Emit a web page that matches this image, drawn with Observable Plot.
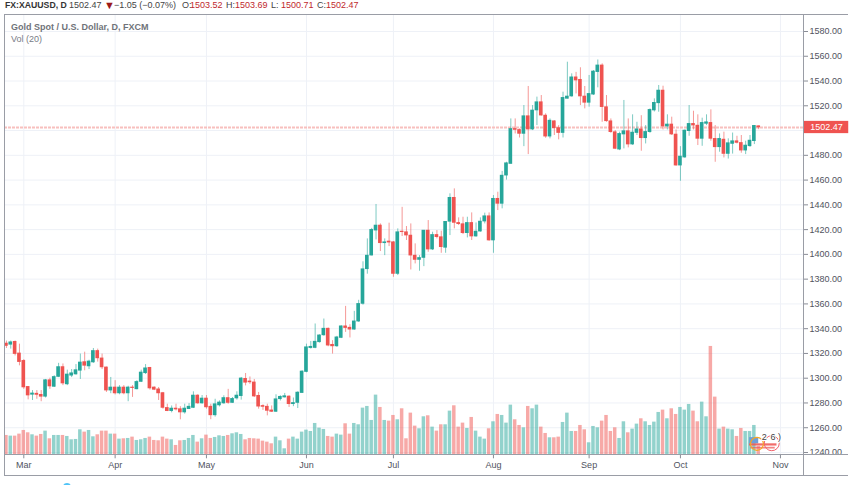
<!DOCTYPE html>
<html><head><meta charset="utf-8">
<script src="https://cdn.jsdelivr.net/npm/d3@7"></script>
<script src="https://cdn.jsdelivr.net/npm/@observablehq/plot@0.6"></script>
<style>
html,body{margin:0;padding:0;background:#fff;overflow:hidden}
#wrap{position:relative;width:852px;height:485px;overflow:hidden;font-family:"Liberation Sans",sans-serif}
#wrap svg{display:block;position:absolute;left:0;top:0;background:transparent}
.h{position:absolute;top:0;font-size:9px;line-height:10px;color:#444;white-space:nowrap}
.r{color:#c0282d}.b{font-weight:bold;color:#333;font-size:8.7px}
.ln{position:absolute;background:#9a9da6}
</style></head><body><div id="wrap"></div>
<script>
const opens=[1328,1327,1329.4,1320,1314,1293,1286.6,1287.5,1286.6,1285,
1298.4,1293,1301,1309,1295,1302,1303,1306,1313,1309.5,
1312.7,1322,1316,1308.7,1290,1292.5,1287.7,1292.5,1287.7,1292.5,
1291,1297,1304,1308.4,1292.5,1291,1288,1276,1273.4,1275.5,
1275,1272.3,1275,1276,1286,1279.6,1283.6,1277,1270,1278,
1279.6,1284,1280,1283.6,1285.5,1299.5,1297.4,1296.6,1285.8,1277.6,
1277,1274,1272.8,1283,1284.4,1285.2,1279,1280,1288,1305,
1324.3,1324.4,1329,1334.6,1340,1327,1325.7,1332.5,1341.9,1340.8,
1339.2,1345.7,1360,1388,1399,1419.2,1423.3,1409,1410.4,1409.8,
1384.2,1418.4,1417.9,1415.2,1399,1395.5,1397.1,1419.2,1403.9,1415.7,
1413.9,1405.3,1426.3,1445.7,1425.4,1424.4,1417.1,1425.4,1414.4,1418.4,
1426.5,1430.8,1411.2,1444.9,1440.8,1463.6,1473,1501.3,1500.5,1497.3,
1511.6,1500.8,1516.2,1522.9,1512.1,1495.1,1507.5,1502,1498,1525.6,
1527.5,1543,1541,1527.5,1522.4,1529,1547.2,1552.6,1518.9,1507.5,
1498.7,1484.6,1496.8,1499.5,1488.7,1498,1501,1493.8,1498.7,1516.2,
1522,1532.3,1503.2,1504.9,1496.8,1471.7,1478.2,1499.5,1505.4,1504,
1493.3,1505.4,1506.2,1493.3,1486.5,1492.7,1481.1,1489.2,1491.4,1490,
1483.8,1487.3,1491.4,1503.52];
const closes=[1326,1329,1319.5,1313,1292.5,1286,1287.7,1286.5,1285,1298.4,
1293.3,1301,1309,1295.7,1303,1304,1306.5,1312.7,1310,1313.5,
1322,1316,1308.7,1290,1292.5,1287.7,1292.5,1287.7,1292.5,1292,
1297,1304.6,1308,1291.7,1290.6,1287.7,1276,1273.4,1275.5,1274.7,
1272.3,1275.5,1277,1286,1279.6,1283.6,1276.4,1270,1279,1280.4,
1284,1280,1283.3,1286,1299.8,1296.3,1296.6,1285.2,1277,1276.8,
1273.6,1272.8,1283,1285,1285.5,1279,1280,1288.4,1305.4,1325,
1325.4,1329.5,1334.6,1340,1326.3,1325.7,1333,1341.9,1340.5,1339.2,
1345.9,1360,1388,1399,1419.8,1423.3,1409,1409.8,1409.5,1384.2,
1417.9,1417.9,1415.2,1399,1395.5,1397.1,1419.2,1403.9,1415.7,1413.9,
1405.8,1426.3,1445.7,1425.4,1424.4,1417.1,1425.4,1414.4,1418.4,1426.5,
1430.8,1411.2,1444.9,1440.8,1463.6,1473.6,1501.3,1500.5,1497.3,1511.6,
1500.8,1516.2,1522.9,1512.1,1495.1,1508,1501.9,1498,1526.4,1527.5,
1543,1540.4,1527.5,1522.4,1529.6,1547.7,1552.6,1518.9,1507.5,1498.7,
1485.2,1497.3,1499.5,1488.7,1498.4,1501,1493.8,1498.9,1516.7,1522.4,
1532.3,1503.2,1504.9,1496.8,1471.7,1479,1500,1505.4,1504,1493.3,
1506.2,1506.7,1493.3,1486.5,1493.3,1481.1,1489.8,1491.4,1490,1483.8,
1487.9,1491.9,1503.8,1502.47];
const highs=[1330,1330,1330,1327.5,1315,1293,1290,1290,1290,1299,
1300,1302,1312,1311.5,1306.5,1307,1311,1319.5,1321,1314.5,
1324,1323.5,1319.5,1309,1300.6,1298,1294,1294,1293.5,1294,
1298,1306.5,1311,1308.7,1293,1292.5,1288.5,1279,1277.6,1279,
1277,1279,1279.5,1289,1286.6,1286,1286,1279,1283,1281.7,
1285.8,1291,1284.4,1289,1300.6,1303.8,1301,1299,1288.5,1278.5,
1279,1277.6,1286.6,1285.8,1287.7,1285.8,1284,1289,1306,1327.5,
1329.7,1343.8,1335,1347.8,1340.5,1330.3,1333.8,1342.4,1358,1343.2,
1354,1362.9,1394,1412.5,1421,1440.3,1424.6,1412.5,1425.2,1410.4,
1420.6,1438,1422.5,1424.6,1408.5,1399,1419.2,1427.3,1417.9,1419.2,
1418.7,1426.5,1448.9,1452.9,1429.5,1430,1430,1433.5,1425.4,1429.5,
1433.3,1433.5,1447.5,1450.2,1467,1474.4,1509.4,1509.4,1501.3,1520.2,
1535.6,1520.2,1527,1528.3,1513.5,1509.4,1508,1504,1531,1555.2,
1545.8,1547,1550.7,1535.6,1544.5,1548.5,1557,1553.9,1528.3,1509.4,
1500,1498.7,1524.3,1509.4,1512.7,1506.7,1512,1504,1517.5,1525.6,
1536.4,1535.8,1512.7,1510.8,1500.5,1487,1500.5,1520.2,1515.6,1512.7,
1510,1512.7,1516.7,1504,1497.3,1498.7,1493.3,1498,1495.4,1496,
1491.4,1496,1504,1503.69];
const lows=[1324,1323.5,1318,1310,1291,1282.5,1282,1283,1281,1284,
1291,1292.5,1300.5,1294,1294,1300.5,1302.5,1299,1306,1307,
1312,1313,1307,1288.5,1287.5,1286.5,1286.6,1286.6,1281,1284.5,
1290.6,1296.5,1303,1290.4,1290,1282,1275,1273,1272,1273.6,
1266.4,1271,1275,1275.5,1279,1279,1275,1266.5,1268.6,1276.8,
1279,1279,1279.7,1282.3,1282.3,1293.8,1295,1284.4,1275,1274,
1269.6,1272.3,1272.3,1281.6,1284,1276.4,1277,1275.5,1287.7,1304.4,
1323.5,1323.8,1328.4,1333.8,1325.4,1319.5,1324.9,1332,1337,1332.5,
1338.7,1345.1,1359,1384,1398.8,1411.7,1402.3,1399,1406.3,1381.5,
1382.9,1414.4,1411.2,1387.4,1392.3,1386.4,1390.1,1401.7,1403.1,1412.5,
1400.9,1400.9,1415.2,1420.6,1423.3,1416,1413.3,1411.2,1413.9,1417.9,
1424.6,1410.6,1400.9,1435.4,1436.8,1460,1473,1497.3,1494,1487,
1480.6,1500,1504,1511.6,1493.8,1493.3,1496,1492.5,1494,1525.6,
1527,1529.6,1520.2,1517.5,1518.9,1528.3,1534.5,1506.7,1506.7,1497.8,
1484.6,1483.8,1485.2,1486,1488,1496,1483.3,1489.2,1497.8,1515,
1514.8,1500.5,1500.5,1496,1471.2,1459,1477.6,1495.4,1500.5,1487.9,
1487.3,1504,1491.4,1474.4,1482.5,1477.9,1477,1481,1489.2,1481.7,
1480.6,1486.5,1488.7,1500.71];
const volumes=[58,56,56,62,73,66,60,56,61,71,48,58,58,58,55,45,46,75,68,73,54,60,71,71,62,62,47,48,49,53,43,45,49,53,43,42,53,47,45,28,42,43,49,58,38,
48,59,49,52,57,55,58,63,66,61,45,49,48,47,41,38,33,53,42,18,47,53,47,68,74,70,94,80,76,55,53,62,59,93,62,94,90,140,145,103,179,142,103,101,118,105,
138,48,125,86,78,114,117,83,71,90,90,131,147,83,95,79,112,71,53,47,78,99,121,118,95,149,105,88,81,145,138,149,83,64,51,51,53,97,125,70,70,88,75,36,85,81,
101,118,70,81,49,99,66,77,92,108,99,88,98,127,134,108,138,121,142,134,151,131,99,158,114,325,173,77,83,77,75,55,79,70,70,88,25];
const priceTicks=d3.range(1240,1581,20);
const timeTicks=[4,25,46,69,89,112,134,155,178];
const timeLabels=["Mar","Apr","May","Jun","Jul","Aug","Sep","Oct","Nov"];
const lastPrice=1502.47;

const UP="#26a69a",DOWN="#ef5350",AXIS="#50535e";
const base=1238.14, volPerPrice=3*1.238;
const halfBody=0.42, halfVol=0.4;
const bars=opens.map((o,i)=>({i,o,c:closes[i],h:highs[i],l:lows[i],v:volumes[i],col:closes[i]>=o?UP:DOWN}));
const font='"Liberation Sans",sans-serif';

const chart=Plot.plot({
  width:852,height:485,marginLeft:4,marginRight:49,marginTop:14,marginBottom:30.7,
  style:{background:"transparent",fontFamily:font},
  x:{type:"linear",domain:[-0.44,183.3],range:[4,803]},
  y:{type:"linear",domain:[base,1593.73],range:[454.3,14]},
  marks:[
    Plot.gridY(priceTicks,{stroke:"#eef1f7",strokeOpacity:1}),
    Plot.gridX(timeTicks,{stroke:"#eef1f7",strokeOpacity:1}),
    Plot.rect(bars,{x1:d=>d.i-halfVol,x2:d=>d.i+halfVol,y1:()=>base,y2:d=>base+d.v/volPerPrice,fill:"col",fillOpacity:0.5}),
    Plot.ruleY([lastPrice],{stroke:"#f8c0be",strokeOpacity:1,strokeWidth:2,strokeDasharray:"3,1"}),
    Plot.ruleX(bars,{x:"i",y1:"l",y2:"h",stroke:"col",strokeOpacity:0.6,strokeWidth:1}),
    Plot.rect(bars,{x1:d=>d.i-halfBody,x2:d=>d.i+halfBody,y1:d=>Math.min(d.o,d.c)-0.25,y2:d=>Math.max(d.o,d.c)+0.25,fill:"col"}),
    // economic-event badge near the last bar
    Plot.rect([{a:170.9,b:173,p1:1247,p2:1252}],{x1:"a",x2:"b",y1:"p1",y2:"p2",fill:"#6f9fd8"}),
    Plot.rect([{a:170.9,b:177.2,p1:1245.2,p2:1247}],{x1:"a",x2:"b",y1:"p1",y2:"p2",fill:"#ef5350",fillOpacity:0.85}),
    Plot.rect([{a:171.2,b:176.8,p1:1242.8,p2:1244.2}],{x1:"a",x2:"b",y1:"p1",y2:"p2",fill:"#ef5350",fillOpacity:0.7}),
    Plot.dot([{i:172.6,p:1247}],{x:"i",y:"p",r:6.5,stroke:"#f5a623",strokeWidth:1.2}),
    Plot.dot([{i:176,p:1247.5}],{x:"i",y:"p",r:7.5,stroke:"#f0606a",strokeWidth:1}),
    Plot.text(["2","6",")"],{x:(d,k)=>[174.3,176.3,177.8][k],y:()=>1252.5,text:d=>d,fontSize:9,fill:"#444",stroke:"#fff",strokeWidth:2,paintOrder:"stroke"}),
    Plot.axisY(priceTicks,{anchor:"right",tickFormat:d=>d===1500?"":d.toFixed(2),tickSize:4,tickPadding:2,stroke:"#8a8d96",fill:AXIS,fontSize:9,label:null}),
    Plot.axisX(timeTicks,{anchor:"bottom",tickFormat:(d,k)=>timeLabels[timeTicks.indexOf(d)],tickSize:4,tickPadding:3,stroke:"#8a8d96",fill:AXIS,fontSize:9,label:null}),
    Plot.rect([lastPrice],{x1:()=>183.3,x2:()=>193.7,y1:d=>d-4.95,y2:d=>d+4.95,fill:DOWN}),
    Plot.text([lastPrice],{x:()=>188.6,y:d=>d,text:d=>d.toFixed(2),fill:"#fff",fontSize:9})
  ]
});
const wrap=document.getElementById("wrap");
wrap.appendChild(chart);
const line=(l,t,w,h)=>{const e=document.createElement("div");e.className="ln";e.style.cssText=`left:${l}px;top:${t}px;width:${w}px;height:${h}px`;wrap.appendChild(e)};
line(4,14,844,1);line(4,14,1,462);line(4,475,844,1);line(803,14,1,462);line(4,454,844,1);
const put=(x,html,cls)=>{const e=document.createElement("div");e.className="h "+(cls||"");e.style.left=x+"px";e.innerHTML=html;wrap.appendChild(e)};
put(5,"FX:XAUUSD, D","b");put(69,"1502.47");
put(104,'<span style="color:#9c1a1a;font-size:11px;line-height:10px">▼</span>');
put(114,"−1.05 (−0.07%)");
put(182,"O:");put(190,"1503.52","r");put(226,"H:");put(235,"1503.69","r");
put(271,"L:");put(281,"1500.71","r");put(317,"C:");put(326,"1502.47","r");
const t1=document.createElement("div");t1.textContent="Gold Spot / U.S. Dollar, D, FXCM";
t1.style.cssText="position:absolute;left:11px;top:22px;font-size:9px;line-height:11px;font-weight:bold;color:#707379;white-space:nowrap";wrap.appendChild(t1);
const t2=document.createElement("div");t2.textContent="Vol (20)";
t2.style.cssText="position:absolute;left:11px;top:34px;font-size:9px;line-height:11px;color:#787b86;white-space:nowrap";wrap.appendChild(t2);
const blue=document.createElement("div");
blue.style.cssText="position:absolute;left:63px;top:483px;width:8px;height:8px;border-radius:50%;background:#4fc3f7";wrap.appendChild(blue);
</script></body></html>
